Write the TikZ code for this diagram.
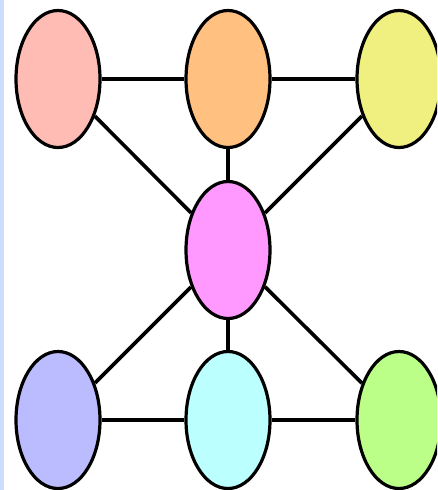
\documentclass[tikz,border=0pt]{standalone}
\usetikzlibrary{shapes.geometric}
\begin{document}
\begin{tikzpicture}[x=1pt,y=-1pt,
  vert/.style={ellipse,draw=black,line width=3.2pt,minimum width=84pt,minimum height=137pt,inner sep=0pt},
  conn/.style={draw=black,line width=3.6pt}]
\useasboundingbox (0,0) rectangle (437,490);
\clip (0,0) rectangle (437,490);
\definecolor{cstrip}{HTML}{CCDEFF}
\fill[white] (0,0) rectangle (437,490);
\fill[cstrip] (0,0) rectangle (4,490);
\definecolor{cpink}{HTML}{FFBCB4}
\definecolor{corange}{HTML}{FFC080}
\definecolor{cyellow}{HTML}{F0F080}
\definecolor{cmag}{HTML}{FF99FF}
\definecolor{cblue}{HTML}{BBBBFF}
\definecolor{ccyan}{HTML}{BBFFFF}
\definecolor{cgreen}{HTML}{BBFF88}
\node[vert,fill=cpink] (a) at (58,79) {};
\node[vert,fill=corange] (b) at (228,79) {};
\node[vert,fill=cyellow] (c) at (399,79) {};
\node[vert,fill=cmag] (m) at (228,250) {};
\node[vert,fill=cblue] (d) at (58,420) {};
\node[vert,fill=ccyan] (e) at (228,420) {};
\node[vert,fill=cgreen] (f) at (399,420) {};
\draw[conn] (a) -- (b);
\draw[conn] (b) -- (c);
\draw[conn] (d) -- (e);
\draw[conn] (e) -- (f);
\draw[conn] (b) -- (m);
\draw[conn] (m) -- (e);
\draw[conn] (a) -- (m);
\draw[conn] (c) -- (m);
\draw[conn] (d) -- (m);
\draw[conn] (f) -- (m);
\end{tikzpicture}
\end{document}
